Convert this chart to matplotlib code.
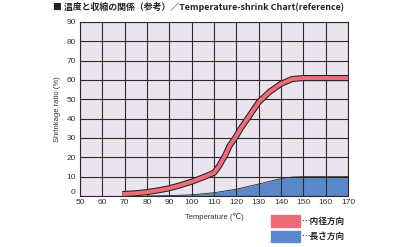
import matplotlib
matplotlib.use("Agg")
import matplotlib.pyplot as plt
from matplotlib.patches import Rectangle

# 内径方向 (inner diameter direction)
temp_dia = [69, 75, 80, 85, 90, 95, 100, 105, 110, 112, 115, 117, 120, 122, 125,
            130, 135, 140, 145, 150, 160, 170]
shrink_dia = [1.0, 1.4, 2.0, 2.9, 4.0, 5.6, 7.4, 9.6, 12.0, 15, 21, 26, 31, 35, 40,
              48.5, 54, 58, 60.5, 61, 61, 61]

# 長さ方向 (length direction)
temp_len = [80, 90, 100, 110, 120, 130, 140, 145, 150, 160, 170]
shrink_len = [0, 0.2, 0.6, 1.7, 3.5, 6.2, 9, 9.8, 10, 10, 10]

x_ticks = list(range(50, 171, 10))
y_ticks = list(range(0, 91, 10))

red = "#ee6b78"
blue = "#5b87cc"
bg = "#ebe4ef"
grid_c = "#2b2b2b"
text_c = "#333333"

plt.rcParams['font.family'] = ['Liberation Sans', 'DejaVu Sans']

fig = plt.figure(figsize=(4.0, 2.47), dpi=100)
ax = fig.add_axes([0.2, 0.2065, 0.67, 0.7045])
ax.set_facecolor(bg)

ax.fill_between(temp_len, shrink_len, 0, color=blue, lw=0, zorder=1)
ax.plot(temp_len, shrink_len, color="#222222", lw=0.6, zorder=1.2)

ax.grid(True, color=grid_c, lw=0.8, zorder=2)
ax.set_axisbelow(False)

ax.plot(temp_dia, shrink_dia, color="#222222", lw=4.4, solid_capstyle="butt", zorder=3)
ax.plot(temp_dia, shrink_dia, color=red, lw=2.9, solid_capstyle="butt", zorder=3.1)

ax.set_xlim(50, 170)
ax.set_ylim(0, 90)
ax.set_xticks(x_ticks)
ax.set_yticks(y_ticks)
ax.tick_params(length=0, labelsize=6, colors=text_c)
ax.tick_params(axis="x", pad=2.5)
ax.tick_params(axis="y", pad=3)
# the "0" sits a little above the axis line in the reference
ax.get_yticklabels()[0].set_verticalalignment("bottom")
for s in ax.spines.values():
    s.set_color(grid_c)
    s.set_linewidth(0.8)

ax.set_ylabel("Shrinkage ratio (%)", fontsize=5.5, color=text_c, labelpad=4)
ax.set_xlabel("Temperature (℃)", fontsize=5.5, color=text_c, labelpad=5)

fig.text(0.132, 0.972, "■ 温度と収縮の関係（参考）／Temperature-shrink Chart(reference)",
         fontsize=6.4, fontweight="bold", color="#222222", va="center",
         family=['Noto Sans CJK JP', 'DejaVu Sans'])

# legend
fig.patches.append(Rectangle((271 / 400, 1 - 227 / 247), 29 / 400, 12 / 247,
                             transform=fig.transFigure, color=red))
fig.patches.append(Rectangle((271 / 400, 1 - 242 / 247), 29 / 400, 11 / 247,
                             transform=fig.transFigure, color=blue))
fig.text(301 / 400, 1 - 221 / 247, "…内径方向", fontsize=6.2, fontweight="bold",
         color="#222222", va="center", family=['Noto Sans CJK JP', 'DejaVu Sans'])
fig.text(301 / 400, 1 - 236.5 / 247, "…長さ方向", fontsize=6.2, fontweight="bold",
         color="#222222", va="center", family=['Noto Sans CJK JP', 'DejaVu Sans'])

fig.savefig("out.png", dpi=100)
